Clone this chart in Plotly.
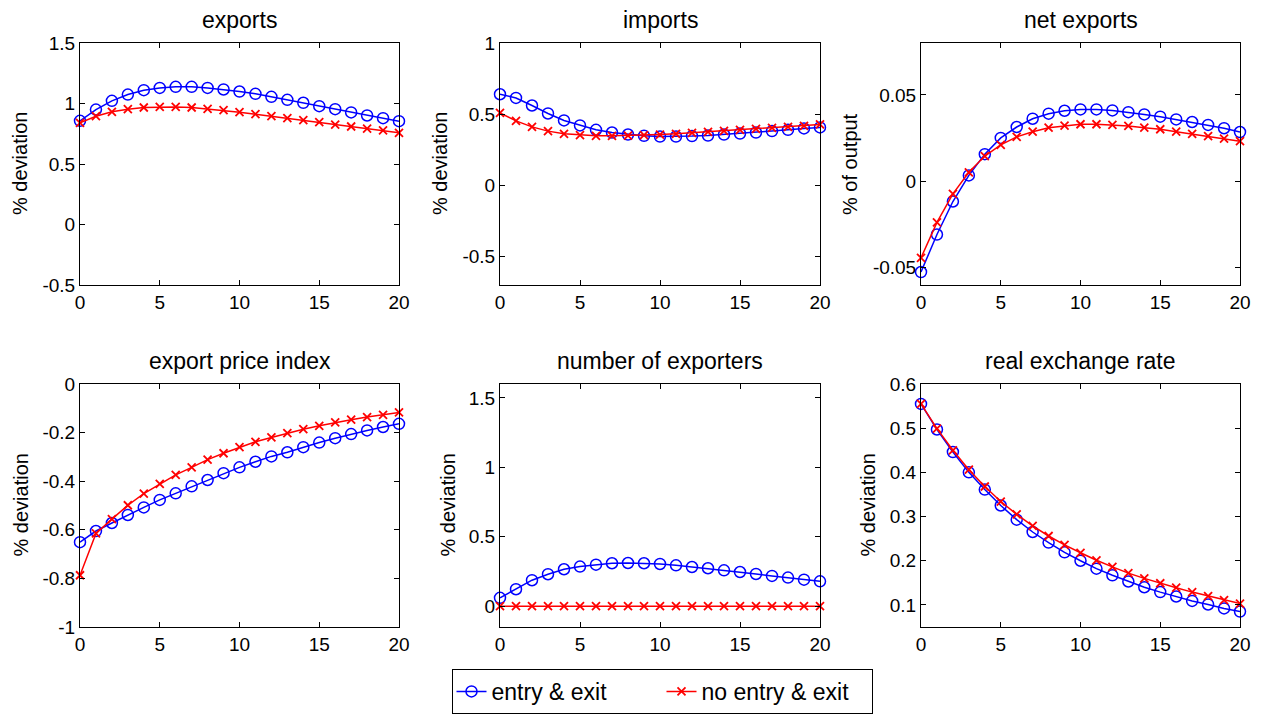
import plotly.graph_objects as go

t = list(range(21))

titles = ["exports", "imports", "net exports",
          "export price index", "number of exporters", "real exchange rate"]
ylabels = ["% deviation", "% deviation", "% of output",
           "% deviation", "% deviation", "% deviation"]

exports_entry = [0.857, 0.950, 1.022, 1.074, 1.110, 1.129, 1.138, 1.138, 1.129, 1.116, 1.099,
                 1.080, 1.055, 1.030, 1.006, 0.978, 0.953, 0.926, 0.901, 0.879, 0.854]
exports_noentry = [0.840, 0.895, 0.931, 0.953, 0.967, 0.972, 0.972, 0.967, 0.956, 0.945, 0.928,
                   0.912, 0.895, 0.879, 0.862, 0.846, 0.826, 0.810, 0.793, 0.777, 0.758]

imports_entry = [0.640, 0.614, 0.561, 0.505, 0.456, 0.421, 0.390, 0.371, 0.357, 0.348, 0.343,
                 0.343, 0.346, 0.350, 0.357, 0.364, 0.371, 0.381, 0.390, 0.400, 0.407]
imports_noentry = [0.509, 0.453, 0.411, 0.381, 0.362, 0.353, 0.348, 0.348, 0.350, 0.353, 0.357,
                   0.362, 0.369, 0.376, 0.383, 0.390, 0.397, 0.404, 0.411, 0.418, 0.428]

netx_entry = [-0.0525, -0.0308, -0.0117, 0.0034, 0.0157, 0.0251, 0.0314, 0.0362, 0.0391, 0.0408, 0.0416,
              0.0416, 0.0410, 0.0400, 0.0387, 0.0374, 0.0358, 0.0343, 0.0326, 0.0307, 0.0285]
netx_noentry = [-0.0443, -0.0238, -0.0073, 0.0052, 0.0146, 0.0211, 0.0257, 0.0287, 0.0310, 0.0322, 0.0330,
                0.0330, 0.0326, 0.0320, 0.0310, 0.0301, 0.0287, 0.0274, 0.0261, 0.0247, 0.0232]

price_entry = [-0.651, -0.605, -0.572, -0.539, -0.508, -0.477, -0.450, -0.421, -0.395, -0.367, -0.343,
               -0.320, -0.298, -0.281, -0.260, -0.241, -0.223, -0.206, -0.191, -0.177, -0.164]
price_noentry = [-0.787, -0.615, -0.556, -0.499, -0.451, -0.411, -0.374, -0.343, -0.311, -0.285, -0.260,
                 -0.238, -0.220, -0.202, -0.186, -0.172, -0.158, -0.147, -0.136, -0.127, -0.117]

nexp_entry = [0.060, 0.122, 0.187, 0.230, 0.266, 0.285, 0.299, 0.309, 0.311, 0.309, 0.304,
              0.294, 0.282, 0.273, 0.258, 0.246, 0.232, 0.218, 0.206, 0.191, 0.179]
nexp_noentry = [0.0] * 21

rer_entry = [0.555, 0.497, 0.446, 0.400, 0.361, 0.325, 0.293, 0.265, 0.241, 0.219, 0.200,
             0.182, 0.167, 0.153, 0.140, 0.129, 0.119, 0.109, 0.101, 0.092, 0.085]
rer_noentry = [0.555, 0.499, 0.450, 0.406, 0.368, 0.334, 0.305, 0.279, 0.256, 0.236, 0.218,
               0.201, 0.186, 0.172, 0.160, 0.149, 0.139, 0.129, 0.120, 0.111, 0.103]

entry_series = [exports_entry, imports_entry, netx_entry, price_entry, nexp_entry, rer_entry]
noentry_series = [exports_noentry, imports_noentry, netx_noentry, price_noentry, nexp_noentry, rer_noentry]

yranges = [[-0.5, 1.5], [-0.7, 1.0], [-0.06, 0.08], [-1.0, 0.0], [-0.15, 1.6], [0.05, 0.6]]
ytickvals = [[-0.5, 0, 0.5, 1, 1.5], [-0.5, 0, 0.5, 1], [-0.05, 0, 0.05],
             [-1, -0.8, -0.6, -0.4, -0.2, 0], [0, 0.5, 1, 1.5], [0.1, 0.2, 0.3, 0.4, 0.5, 0.6]]
yticktext = [["-0.5", "0", "0.5", "1", "1.5"], ["-0.5", "0", "0.5", "1"], ["-0.05", "0", "0.05"],
             ["-1", "-0.8", "-0.6", "-0.4", "-0.2", "0"], ["0", "0.5", "1", "1.5"],
             ["0.1", "0.2", "0.3", "0.4", "0.5", "0.6"]]
xtickvals = [0, 5, 10, 15, 20]

W, H = 1262, 717
xpix = [(80, 399), (500, 820), (921, 1240)]
ypix = [(43, 285), (384, 627)]
ylab_px = [20, 440, 850, 20, 447, 867]

BLUE = "#0000FF"
RED = "#FF0000"
FONT = "Liberation Sans, Arial, sans-serif"

fig = go.Figure()
layout = dict(width=W, height=H, margin=dict(l=0, r=0, t=0, b=0, autoexpand=False),
              paper_bgcolor="white", plot_bgcolor="white",
              font=dict(family=FONT, size=19, color="black"))
annotations = []

for i in range(6):
    r, c = divmod(i, 3)
    x0, x1 = xpix[c]
    y0, y1 = ypix[r]
    n = "" if i == 0 else str(i + 1)
    xa, ya = "xaxis" + n, "yaxis" + n
    axis_common = dict(showline=True, linecolor="black", linewidth=1, mirror="ticks",
                       ticks="inside", ticklen=5, tickcolor="black", tickwidth=1,
                       showgrid=False, zeroline=False,
                       tickfont=dict(family=FONT, size=19, color="black"))
    layout[xa] = dict(domain=[x0 / W, x1 / W], range=[0, 20], tickvals=xtickvals,
                      anchor="y" + n, **axis_common)
    layout[ya] = dict(domain=[1 - y1 / H, 1 - y0 / H], range=yranges[i],
                      tickvals=ytickvals[i], ticktext=yticktext[i],
                      anchor="x" + n, **axis_common)
    fig.add_trace(go.Scatter(x=t, y=entry_series[i], mode="lines+markers",
                             name="entry & exit", legendgroup="a", showlegend=(i == 0),
                             line=dict(color=BLUE, width=1.5),
                             marker=dict(symbol="circle-open", size=11, color=BLUE,
                                         line=dict(width=1.5, color=BLUE)),
                             xaxis="x" + n, yaxis="y" + n, cliponaxis=False))
    fig.add_trace(go.Scatter(x=t, y=noentry_series[i], mode="lines+markers",
                             name="no entry & exit", legendgroup="b", showlegend=(i == 0),
                             line=dict(color=RED, width=1.5),
                             marker=dict(symbol="x-thin-open", size=8, color=RED,
                                         line=dict(width=1.8, color=RED)),
                             xaxis="x" + n, yaxis="y" + n, cliponaxis=False))
    annotations.append(dict(text=titles[i], xref="paper", yref="paper",
                            x=(x0 + x1) / 2 / W, y=1 - (y0 - 23) / H,
                            xanchor="center", yanchor="middle", showarrow=False,
                            font=dict(family=FONT, size=23, color="black")))
    annotations.append(dict(text=ylabels[i], xref="paper", yref="paper",
                            x=ylab_px[i] / W, y=1 - (y0 + y1) / 2 / H, textangle=-90,
                            xanchor="center", yanchor="middle", showarrow=False,
                            font=dict(family=FONT, size=20, color="black")))

layout["annotations"] = annotations
layout["showlegend"] = True
layout["legend"] = dict(orientation="h", x=662 / W, xanchor="center",
                        y=1 - 714 / H, yanchor="bottom",
                        bordercolor="black", borderwidth=1, bgcolor="white",
                        font=dict(family=FONT, size=23, color="black"),
                        entrywidth=165, tracegroupgap=0)
fig.update_layout(**layout)
fig.write_html("out.html")
